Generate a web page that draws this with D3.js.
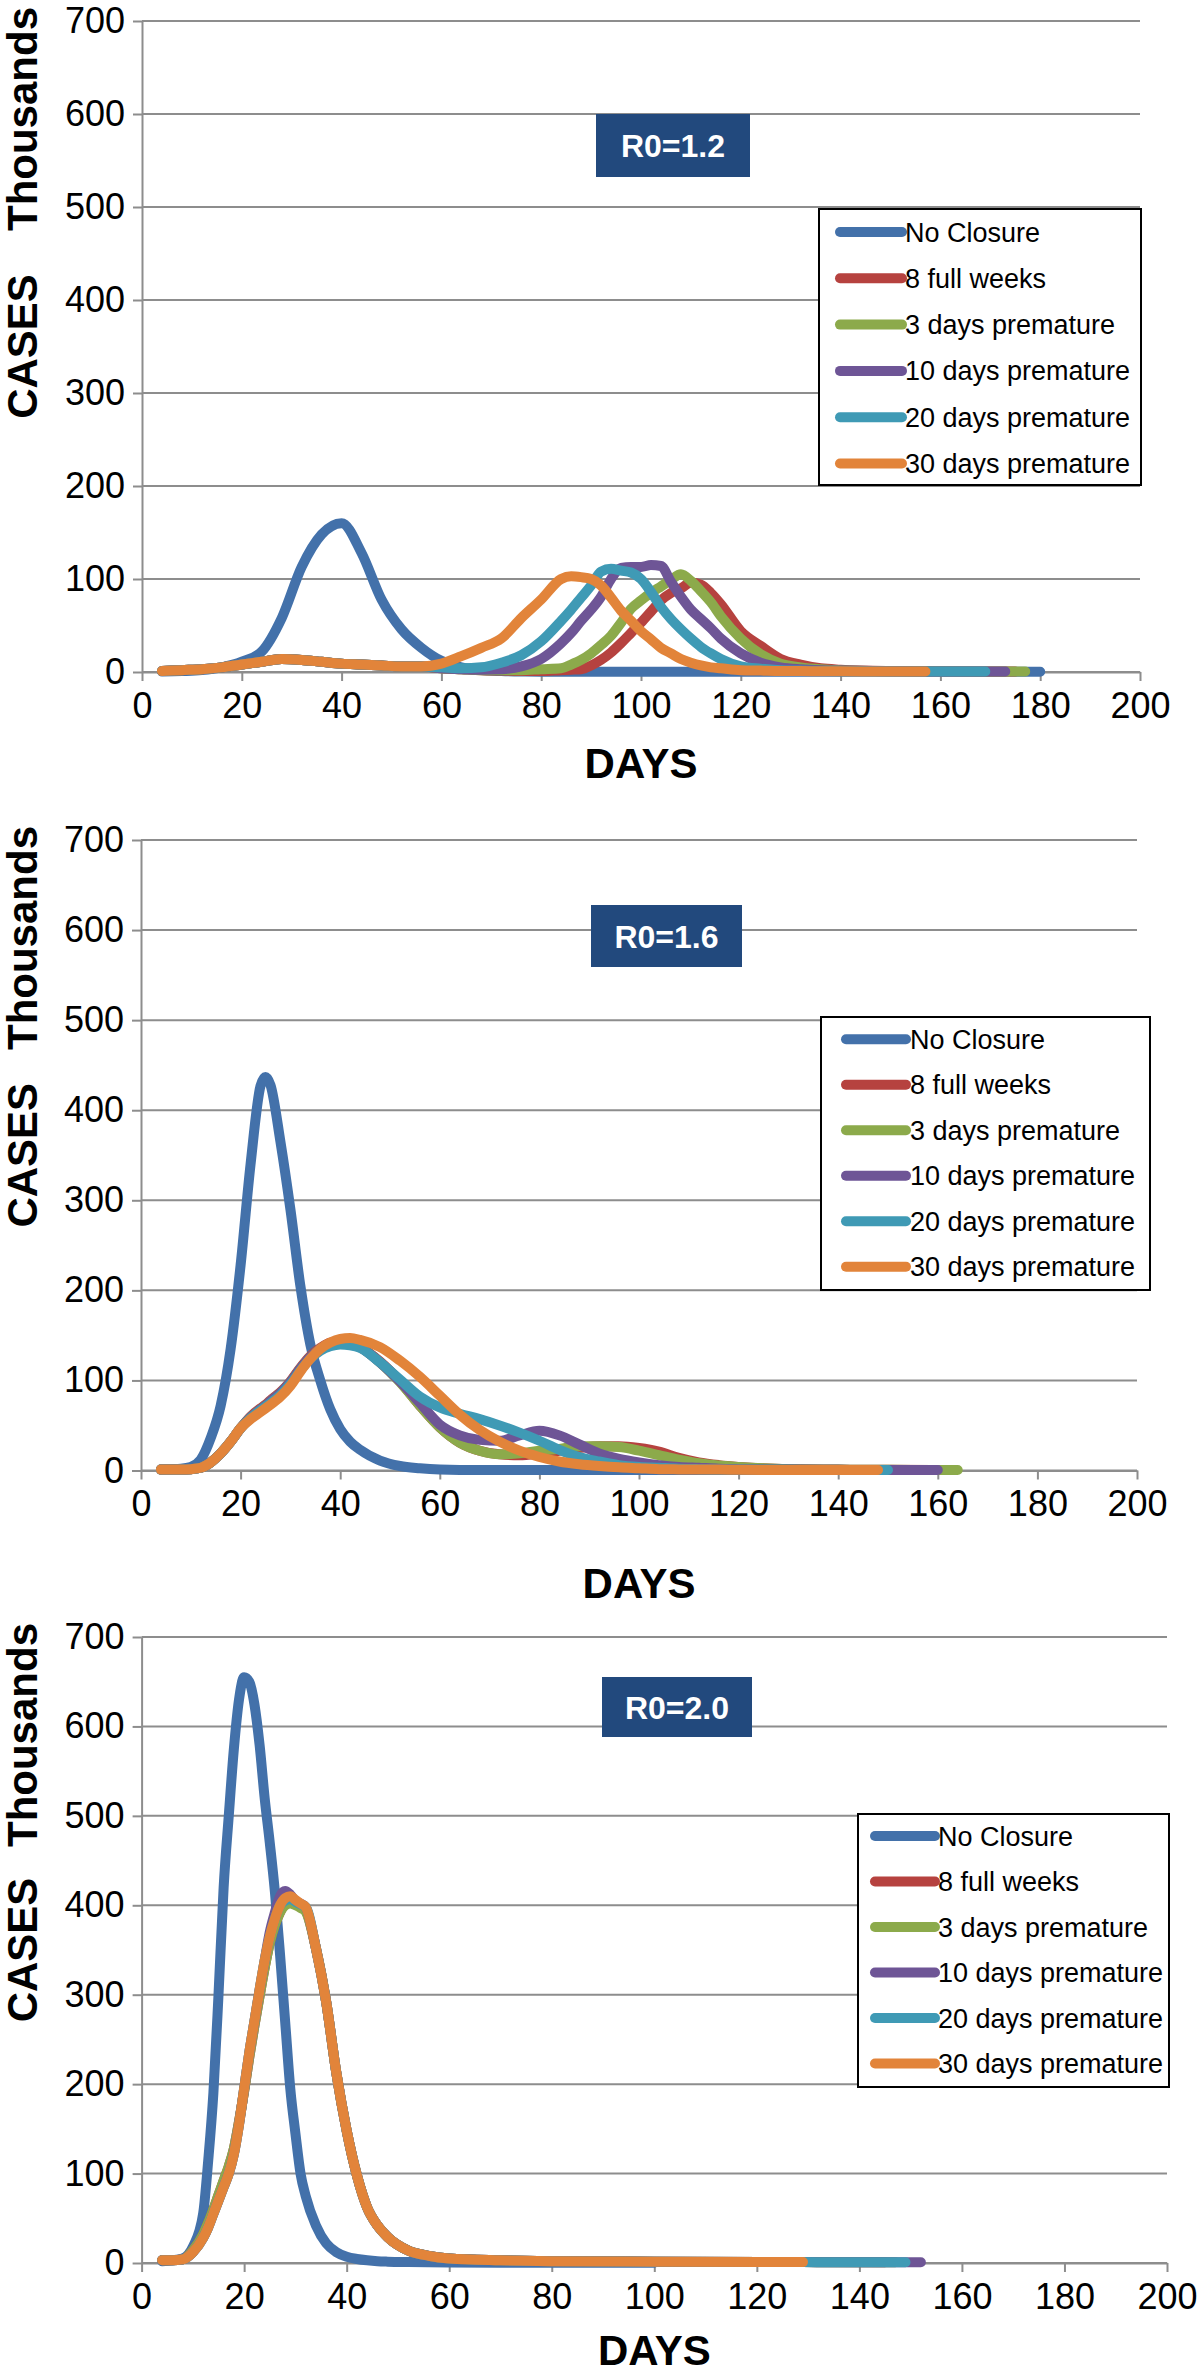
<!DOCTYPE html>
<html>
<head>
<meta charset="utf-8">
<script src="https://cdn.jsdelivr.net/npm/d3@7"></script>
<style>
  html, body { margin: 0; padding: 0; background: #fff; }
  svg { display: block; }
</style>
</head>
<body>
<svg id="chart" width="1200" height="2377"></svg>
<script>
// ---------------- DATA ----------------
const seriesNames = ["No Closure", "8 full weeks", "3 days premature", "10 days premature", "20 days premature", "30 days premature"];
const panelTitles = ["R0=1.2", "R0=1.6", "R0=2.0"];
const xTicks = [0, 20, 40, 60, 80, 100, 120, 140, 160, 180, 200];
const yTicks = [0, 100, 200, 300, 400, 500, 600, 700];
const xLabel = "DAYS";
const yLabel = "CASES";
const unitLabel = "Thousands";

// Panel 1 (R0 = 1.2)
const days1 = [4,8,12,16,20,24,28,32,36,40,44,48,52,56,60,64,68,72,76,80,84,86,88,90,92,94,96,98,100,102,104,106,108,110,112,114,116,120,124,128,132,136,140,150,157,169,173,175,177,180];
const noClosure1 = [0.5,1,2,5,11,22,58,113,148,160,128,78,46,26,12,5,2,1,0.5,0.3,0.3,0.3,0.3,0.3,0.3,0.3,0.3,0.3,0.3,0.3,0.3,0.3,0.3,0.3,0.3,0.3,0.3,0.3,0.3,0.3,0.3,0.3,0.3,0.3,0.3,0.3,0.3,0.3,0.3,0.3];
const fullWeeks1 = [1,2,3,5,8,11,14,13,11,9,8,7,6,6,4,3,2,1.5,1,1,2,2.5,3,7,13,21,31,42,53,65,77,85,90,96,94,85,73,44,28,14,8,4,2.5,1,0.7,0.5,0.5,0.5,null,null];
const days3pre1 = [1,2,3,5,8,11,14,13,11,9,8,7,6,6,4,3,2,2,2,3,4,8,13,20,29,39,53,68,77,85,92,99,105,98,87,75,60,36,19,9,5,3,2,1,0.7,0.5,0.5,0.5,0.5,null];
const days10pre1 = [1,2,3,5,8,11,14,13,11,9,8,7,6,6,4,3,2.5,3,6,14,31,42,55,67,81,100,112,113,113,115,114,97,81,67,57,47,36,20,10,5,3,2,1.5,0.8,0.6,0.5,0.5,null,null,null];
const days20pre1 = [1,2,3,5,8,11,14,13,11,9,8,7,6,6,5,4,5,10,18,33,55,67,80,93,108,111,109,107,100,86,70,57,46,36,27,20,14,6,3.5,2,1.5,1,0.8,0.6,0.5,0.5,null,null,null,null];
const days30pre1 = [1,2,3,5,8,11,14,13,11,9,8,7,6,6,9,17,26,36,58,78,100,103,102,100,93,80,66,55,44,35,26,20,14,10,7,5,4,2,1.5,1,1,0.8,0.7,0.5,0.5,null,null,null,null,null];

// Panel 2 (R0 = 1.6)
const days2 = [4,6,8,10,12,14,16,18,20,22,24,25,26,28,30,32,34,36,38,40,42,44,48,52,56,60,64,68,72,76,80,84,88,92,96,100,104,108,112,116,120,130,140,148,150,160,164];
const noClosure2 = [1,1.5,2,4,12,36,72,135,228,340,427,437,428,365,290,205,140,100,68,46,32,23,11,5,2.5,1,0.5,0.5,0.5,0.5,0.5,0.5,0.5,0.5,0.5,0.5,0.5,0.5,0.5,0.5,0.5,0.5,0.5,null,null,null,null];
const fullWeeks2 = [1,1,1,1.5,3,9,19,32,47,60,69,73,78,87,99,114,127,136,142,143,142,137,121,99,72,48,31,22,18,17,19,22,25,27,27,25,21,14,9,6,4,1.5,1,0.7,0.7,0.5,null];
const days3pre2 = [1,1,1,1.5,3,9,19,32,47,59,68,72,77,86,98,113,126,135,141,143,142,137,120,98,72,48,31,22,18,19,22,24,27,27,26,22,17,12,8,5.5,4,1.5,1,0.7,0.7,0.5,0.5];
const days10pre2 = [1,1,1,1.5,3,9,19,32,47,59,68,72,77,86,98,113,126,135,141,143,142,137,120,99,75,51,39,34,33,39,44,39,29,19,13,9,6,4,3,2,1.5,1,0.7,0.5,0.5,0.5,null];
const days20pre2 = [1,1,1,1.5,3,9,19,32,47,58,67,71,75,84,96,111,124,133,138,140,139,136,120,101,82,70,63,57,50,42,33,23,15,10,6,4,3,2,1.5,1.2,1,0.7,0.5,0.5,0.5,null,null];
const days30pre2 = [1,1,1,1.5,3,9,19,32,47,57,65,69,73,82,94,110,124,135,142,146,147,145,137,122,104,83,62,45,32,22,15,10,7,5,3.5,2.5,1.5,1.2,1,1,0.8,0.6,0.5,0.5,null,null,null];

// Panel 3 (R0 = 2.0)
const days3 = [4,6,8,10,12,13,14,15,16,17,18,19,20,21,22,23,24,25,26,27,28,29,30,31,32,34,36,38,40,42,44,46,48,52,56,60,70,80,100,129,145,147,149,152];
const noClosure3 = [2,3,5,18,55,115,190,300,420,500,575,630,655,650,625,580,520,470,415,345,270,195,145,100,75,42,22,12,7,4.5,3,2,1.5,1,0.7,0.5,0.3,0.3,0.3,null,null,null,null,null];
const fullWeeks3 = [3,3,4,14,32,45,60,76,92,108,128,158,192,230,265,298,330,358,378,392,402,404,401,398,394,352,292,212,148,98,62,42,29,14,8,5,3,2,1.5,1,0.8,null,null,null];
const days3pre3 = [3,3,4,14,32,45,60,76,92,108,128,158,192,230,265,298,330,358,378,392,400,402,400,397,393,352,292,212,148,98,62,42,29,14,8,5,3,2,1.5,1,0.8,0.8,null,null];
const days10pre3 = [3,3,4,12,28,40,55,70,85,100,122,155,195,235,270,305,338,370,392,410,416,412,405,402,398,352,292,212,148,98,62,42,29,14,8,5,3,2,1.5,1,0.8,0.8,0.8,0.8];
const days20pre3 = [3,3,4,12,28,40,55,70,85,100,122,155,195,235,270,305,338,365,385,400,405,407,404,401,398,352,292,212,148,98,62,42,29,14,8,5,3,2,1.5,1,0.8,0.8,0.8,null];
const days30pre3 = [3,3,4,12,28,40,55,70,85,100,122,155,195,235,270,305,338,365,385,400,408,410,406,402,398,352,292,212,148,98,62,42,29,14,8,5,3,2,1.5,1,null,null,null,null];

const panelData = [
  { days: days1, values: [noClosure1, fullWeeks1, days3pre1, days10pre1, days20pre1, days30pre1] },
  { days: days2, values: [noClosure2, fullWeeks2, days3pre2, days10pre2, days20pre2, days30pre2] },
  { days: days3, values: [noClosure3, fullWeeks3, days3pre3, days10pre3, days20pre3, days30pre3] }
];

// ---------------- STYLE / LAYOUT ----------------
const seriesColors = ["#4371AA", "#B6423F", "#8CAA4B", "#6E5596", "#3F9AB5", "#E2843A"];
const FONT = "'Liberation Sans', Arial, Helvetica, sans-serif";
const gridColor = "#8d8d8d";
const layout = [
  { x0: 142, x1: 1140, top: 21, bottom: 672, title: [596, 114, 154, 63], legend: [819, 209, 322, 276], row0: 232, step: 46.3, lineX: [840, 902], textX: 905, daysY: 778 },
  { x0: 141, x1: 1137, top: 840, bottom: 1470.5, title: [591, 905, 151, 62], legend: [821, 1017, 329, 273], row0: 1039.3, step: 45.5, lineX: [846, 906], textX: 910, daysY: 1598 },
  { x0: 141.6, x1: 1167, top: 1637, bottom: 2263, title: [602, 1677, 150, 60], legend: [858, 1814, 311, 273], row0: 1836, step: 45.5, lineX: [875, 935], textX: 938, daysY: 2365 }
];

const svg = d3.select("#chart");
svg.append("rect").attr("width", 1200).attr("height", 2377).attr("fill", "#fff");

layout.forEach((L, pi) => {
  const data = panelData[pi];
  const x = d3.scaleLinear().domain([0, 200]).range([L.x0, L.x1]);
  const y = d3.scaleLinear().domain([0, 700]).range([L.bottom, L.top]);
  const g = svg.append("g");

  // gridlines
  g.append("g").selectAll("line").data(yTicks).join("line")
    .attr("x1", L.x0).attr("x2", L.x1)
    .attr("y1", d => y(d)).attr("y2", d => y(d))
    .attr("stroke", gridColor).attr("stroke-width", 2);

  // y axis
  const yAxis = g.append("g").attr("transform", `translate(${L.x0},0)`)
    .call(d3.axisLeft(y).tickValues(yTicks).tickSize(9).tickSizeOuter(0).tickPadding(8).tickFormat(d3.format("d")));
  yAxis.selectAll("path, line").attr("stroke", gridColor).attr("stroke-width", 2);
  yAxis.selectAll("text").attr("font-family", FONT).attr("font-size", 36).attr("fill", "#000");

  // x axis
  const xAxis = g.append("g").attr("transform", `translate(0,${L.bottom})`)
    .call(d3.axisBottom(x).tickValues(xTicks).tickSize(9).tickSizeOuter(0).tickPadding(11).tickFormat(d3.format("d")));
  xAxis.selectAll("path, line").attr("stroke", gridColor).attr("stroke-width", 2);
  xAxis.selectAll("text").attr("font-family", FONT).attr("font-size", 36).attr("fill", "#000");

  // axis titles
  g.append("text").text(xLabel)
    .attr("x", (L.x0 + L.x1) / 2).attr("y", L.daysY)
    .attr("text-anchor", "middle").attr("font-family", FONT).attr("font-weight", "bold")
    .attr("font-size", 42).attr("fill", "#000");
  g.append("text").text(yLabel)
    .attr("transform", `translate(37,${(L.top + L.bottom) / 2}) rotate(-90)`)
    .attr("text-anchor", "middle").attr("font-family", FONT).attr("font-weight", "bold")
    .attr("font-size", 42).attr("fill", "#000");
  g.append("text").text(unitLabel)
    .attr("transform", `translate(37,${L.top - 14}) rotate(-90)`)
    .attr("text-anchor", "end").attr("font-family", FONT).attr("font-weight", "bold")
    .attr("font-size", 42).attr("fill", "#000");

  // series lines
  const line = d3.line()
    .defined(d => d[1] !== null)
    .x(d => x(d[0])).y(d => y(d[1]))
    .curve(d3.curveMonotoneX);
  data.values.forEach((vals, si) => {
    const pts = data.days.map((dd, i) => [dd, vals[i]]);
    g.append("path").datum(pts)
      .attr("d", line)
      .attr("fill", "none")
      .attr("stroke", seriesColors[si])
      .attr("stroke-width", 10)
      .attr("stroke-linecap", "round")
      .attr("stroke-linejoin", "round");
  });

  // title box
  const [tx, ty, tw, th] = L.title;
  g.append("rect").attr("x", tx).attr("y", ty).attr("width", tw).attr("height", th).attr("fill", "#22497D");
  g.append("text").text(panelTitles[pi])
    .attr("x", tx + tw / 2).attr("y", ty + th / 2 + 11.5)
    .attr("text-anchor", "middle").attr("font-family", FONT).attr("font-weight", "bold")
    .attr("font-size", 32).attr("fill", "#fff");

  // legend
  const [lx, ly, lw, lh] = L.legend;
  g.append("rect").attr("x", lx).attr("y", ly).attr("width", lw).attr("height", lh)
    .attr("fill", "#fff").attr("stroke", "#000").attr("stroke-width", 2);
  const rows = g.append("g").selectAll("g").data(seriesNames).join("g")
    .attr("transform", (d, i) => `translate(0,${L.row0 + i * L.step})`);
  rows.append("line")
    .attr("x1", L.lineX[0]).attr("x2", L.lineX[1]).attr("y1", 0).attr("y2", 0)
    .attr("stroke", (d, i) => seriesColors[i]).attr("stroke-width", 10).attr("stroke-linecap", "round");
  rows.append("text").text(d => d)
    .attr("x", L.textX).attr("y", 9.5)
    .attr("font-family", FONT).attr("font-size", 27).attr("fill", "#000");
});
</script>
</body>
</html>
